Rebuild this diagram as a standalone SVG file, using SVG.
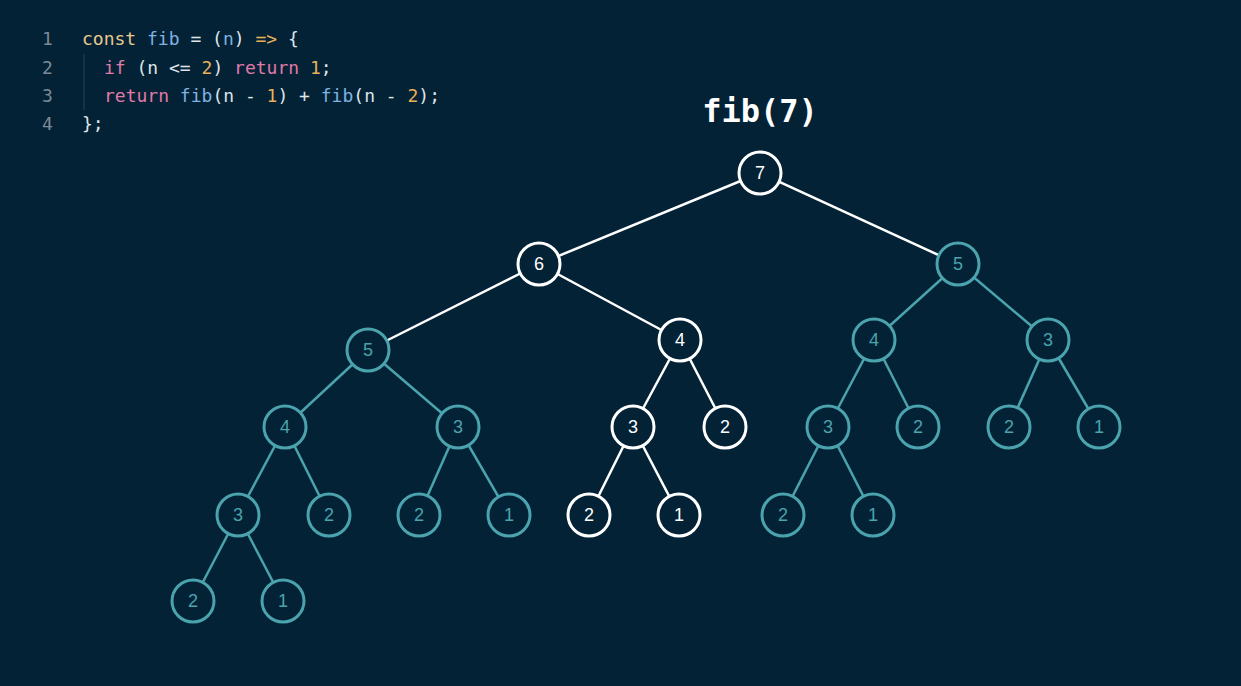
<svg xmlns="http://www.w3.org/2000/svg" width="1241" height="686" viewBox="0 0 1241 686">
<style>
.code{font-family:"DejaVu Sans Mono",monospace;font-size:18px}
.ln{fill:#7d8a96}.k{fill:#e6c98f}.f{fill:#7fb2e0}.p{fill:#e07aa8}.n{fill:#e9b15a}.w{fill:#dfe5ea}
.node circle{fill:#032236;stroke-width:3}
.t circle{stroke:#4aa3ad}.t text{fill:#4aa3ad}
.h circle{stroke:#ffffff}.h text{fill:#ffffff}
.node text{font-family:"Liberation Sans",Arial,sans-serif;font-size:18px;text-anchor:middle;dominant-baseline:central}
.et{stroke:#4aa3ad;stroke-width:2.5}.ew{stroke:#ffffff;stroke-width:2.5}
</style>
<rect width="1241" height="686" fill="#032236"/>
<g class="code">
<text x="42" y="45" class="ln">1</text>
<text x="42" y="74" class="ln">2</text>
<text x="42" y="102" class="ln">3</text>
<text x="42" y="130" class="ln">4</text>
<line x1="84" y1="54" x2="84" y2="110" stroke="#2c4558" stroke-width="1"/>
<text x="82" y="45" xml:space="preserve"><tspan class="k">const</tspan><tspan class="f"> fib</tspan><tspan class="w"> = (</tspan><tspan class="f">n</tspan><tspan class="w">) </tspan><tspan class="n">=&gt;</tspan><tspan class="w"> {</tspan></text>
<text x="104" y="74" xml:space="preserve"><tspan class="p">if</tspan><tspan class="w"> (n &lt;= </tspan><tspan class="n">2</tspan><tspan class="w">) </tspan><tspan class="p">return</tspan><tspan class="n"> 1</tspan><tspan class="w">;</tspan></text>
<text x="104" y="102" xml:space="preserve"><tspan class="p">return</tspan><tspan class="f"> fib</tspan><tspan class="w">(n - </tspan><tspan class="n">1</tspan><tspan class="w">) + </tspan><tspan class="f">fib</tspan><tspan class="w">(n - </tspan><tspan class="n">2</tspan><tspan class="w">);</tspan></text>
<text x="82" y="130" class="w">};</text>
</g>
<text x="760" y="122" text-anchor="middle" font-family="DejaVu Sans Mono,monospace" font-weight="bold" font-size="32" fill="#ffffff">fib(7)</text>
<g id="connectors">
<line class="ew" x1="760" y1="173" x2="539" y2="264"/>
<line class="ew" x1="760" y1="173" x2="958" y2="264"/>
<line class="ew" x1="539" y1="264" x2="368" y2="350"/>
<line class="ew" x1="539" y1="264" x2="680" y2="340"/>
<line class="ew" x1="680" y1="340" x2="633" y2="427"/>
<line class="ew" x1="680" y1="340" x2="725" y2="427"/>
<line class="ew" x1="633" y1="427" x2="589" y2="515"/>
<line class="ew" x1="633" y1="427" x2="679" y2="515"/>
<line class="et" x1="958" y1="264" x2="874" y2="340"/>
<line class="et" x1="958" y1="264" x2="1048" y2="340"/>
<line class="et" x1="368" y1="350" x2="285" y2="427"/>
<line class="et" x1="368" y1="350" x2="458" y2="427"/>
<line class="et" x1="874" y1="340" x2="828" y2="427"/>
<line class="et" x1="874" y1="340" x2="918" y2="427"/>
<line class="et" x1="1048" y1="340" x2="1009" y2="427"/>
<line class="et" x1="1048" y1="340" x2="1099" y2="427"/>
<line class="et" x1="285" y1="427" x2="238" y2="515"/>
<line class="et" x1="285" y1="427" x2="329" y2="515"/>
<line class="et" x1="458" y1="427" x2="419" y2="515"/>
<line class="et" x1="458" y1="427" x2="509" y2="515"/>
<line class="et" x1="828" y1="427" x2="783" y2="515"/>
<line class="et" x1="828" y1="427" x2="873" y2="515"/>
<line class="et" x1="238" y1="515" x2="193" y2="601"/>
<line class="et" x1="238" y1="515" x2="283" y2="601"/>
</g>
<g id="n7" class="node h"><circle cx="760" cy="173" r="21"/><text x="760" y="173">7</text></g>
<g id="n6" class="node h"><circle cx="539" cy="264" r="21"/><text x="539" y="264">6</text></g>
<g id="n5r" class="node t"><circle cx="958" cy="264" r="21"/><text x="958" y="264">5</text></g>
<g id="n5" class="node t"><circle cx="368" cy="350" r="21"/><text x="368" y="350">5</text></g>
<g id="n4" class="node h"><circle cx="680" cy="340" r="21"/><text x="680" y="340">4</text></g>
<g id="n4r" class="node t"><circle cx="874" cy="340" r="21"/><text x="874" y="340">4</text></g>
<g id="n3r" class="node t"><circle cx="1048" cy="340" r="21"/><text x="1048" y="340">3</text></g>
<g id="a4" class="node t"><circle cx="285" cy="427" r="21"/><text x="285" y="427">4</text></g>
<g id="a3" class="node t"><circle cx="458" cy="427" r="21"/><text x="458" y="427">3</text></g>
<g id="a3w" class="node h"><circle cx="633" cy="427" r="21"/><text x="633" y="427">3</text></g>
<g id="a2w" class="node h"><circle cx="725" cy="427" r="21"/><text x="725" y="427">2</text></g>
<g id="a3b" class="node t"><circle cx="828" cy="427" r="21"/><text x="828" y="427">3</text></g>
<g id="a2b" class="node t"><circle cx="918" cy="427" r="21"/><text x="918" y="427">2</text></g>
<g id="a2c" class="node t"><circle cx="1009" cy="427" r="21"/><text x="1009" y="427">2</text></g>
<g id="a1c" class="node t"><circle cx="1099" cy="427" r="21"/><text x="1099" y="427">1</text></g>
<g id="b3" class="node t"><circle cx="238" cy="515" r="21"/><text x="238" y="515">3</text></g>
<g id="b2" class="node t"><circle cx="329" cy="515" r="21"/><text x="329" y="515">2</text></g>
<g id="b2b" class="node t"><circle cx="419" cy="515" r="21"/><text x="419" y="515">2</text></g>
<g id="b1b" class="node t"><circle cx="509" cy="515" r="21"/><text x="509" y="515">1</text></g>
<g id="b2w" class="node h"><circle cx="589" cy="515" r="21"/><text x="589" y="515">2</text></g>
<g id="b1w" class="node h"><circle cx="679" cy="515" r="21"/><text x="679" y="515">1</text></g>
<g id="b2c" class="node t"><circle cx="783" cy="515" r="21"/><text x="783" y="515">2</text></g>
<g id="b1c" class="node t"><circle cx="873" cy="515" r="21"/><text x="873" y="515">1</text></g>
<g id="c2" class="node t"><circle cx="193" cy="601" r="21"/><text x="193" y="601">2</text></g>
<g id="c1" class="node t"><circle cx="283" cy="601" r="21"/><text x="283" y="601">1</text></g>
</svg>
